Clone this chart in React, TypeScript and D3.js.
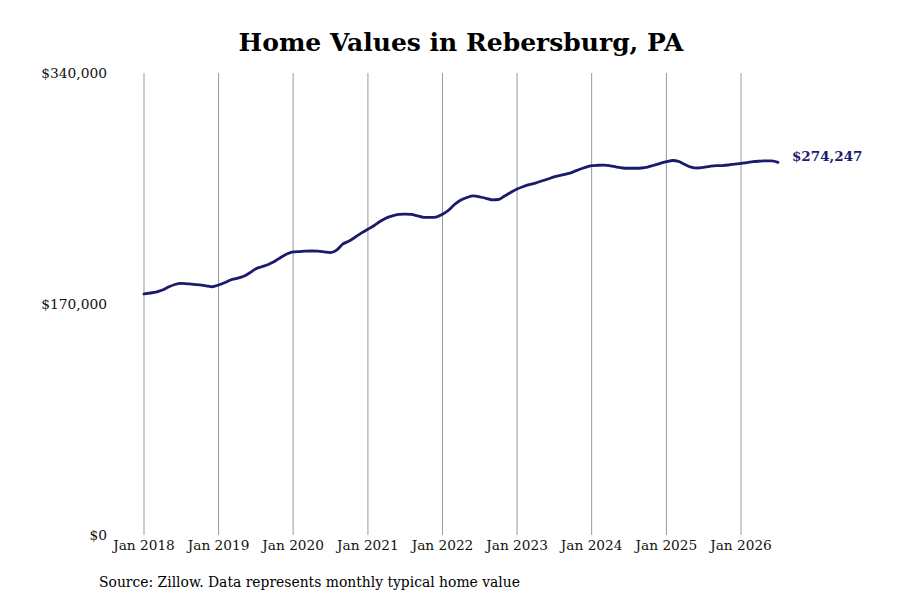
import { useRef, useEffect } from "react";
import * as d3 from "d3";

// monthly typical home value, Jan 2018 .. Jul 2026
const START_YEAR = 2018;
const START_MONTH = 0;
const homeValues = [
  177400, 178100, 178800, 180300, 182500, 184350, 185200, 184870, 184500, 184000, 183400, 182700,
  184000, 185800, 187700, 188900, 190200, 192800, 195800, 197400, 199100, 201300, 204200, 206800,
  208300, 208600, 208900, 209000, 208900, 208400, 207800, 209700, 214200, 216400, 219300, 222300,
  225000, 227800, 230700, 233300, 234900, 235900, 236100, 235900, 234800, 233800, 233700, 234000,
  236000, 239200, 243200, 246500, 248400, 249500, 248900, 247800, 246700, 246900, 249500, 252100,
  254600, 256500, 257900, 259000, 260500, 262000, 263500, 264600, 265700, 267100, 269000, 270600,
  271800, 272100, 272200, 271700, 270800, 270100, 269900, 269900, 270100, 270800, 272100, 273500,
  274700, 275600, 274900, 272700, 270800, 270100, 270600, 271300, 271800, 271900, 272300, 272900,
  273500, 274100, 274700, 275100, 275400, 275400, 274247,
];
const yTicks = [0, 170000, 340000];
const xTickYears = [2018, 2019, 2020, 2021, 2022, 2023, 2024, 2025, 2026];

const TITLE = "Home Values in Rebersburg, PA";
const SOURCE = "Source: Zillow. Data represents monthly typical home value";
const LINE_COLOR = "#1b1a6b";
const FONT = "'DejaVu Serif', serif";

const WIDTH = 900;
const HEIGHT = 600;

export default function App() {
  const svgRef = useRef<SVGSVGElement>(null);

  useEffect(() => {
    if (!svgRef.current) return;
    const svg = d3.select(svgRef.current);
    svg.selectAll("*").remove();

    const data = homeValues.map((v, i) => ({
      date: new Date(START_YEAR, START_MONTH + i, 1),
      value: v,
    }));

    const x = d3
      .scaleTime()
      .domain([new Date(2018, 0, 1), new Date(2026, 0, 1)])
      .range([144, 741]);
    const y = d3.scaleLinear().domain([0, 340000]).range([535, 73]);

    svg.append("rect").attr("width", WIDTH).attr("height", HEIGHT).attr("fill", "#fff");

    // Title
    svg
      .append("text")
      .attr("x", 461)
      .attr("y", 51)
      .attr("text-anchor", "middle")
      .attr("font-family", FONT)
      .attr("font-weight", "bold")
      .attr("font-size", 25)
      .attr("fill", "#000")
      .text(TITLE);

    // Vertical gridlines
    svg
      .append("g")
      .selectAll("line")
      .data(xTickYears)
      .join("line")
      .attr("x1", (d) => x(new Date(d, 0, 1)))
      .attr("x2", (d) => x(new Date(d, 0, 1)))
      .attr("y1", y(340000))
      .attr("y2", y(0))
      .attr("stroke", "#999")
      .attr("stroke-width", 1);

    // X labels
    svg
      .append("g")
      .selectAll("text")
      .data(xTickYears)
      .join("text")
      .attr("x", (d) => x(new Date(d, 0, 1)))
      .attr("y", 550)
      .attr("text-anchor", "middle")
      .attr("font-family", FONT)
      .attr("font-size", 13.7)
      .attr("fill", "#111")
      .text((d) => `Jan ${d}`);

    // Y labels
    svg
      .append("g")
      .selectAll("text")
      .data(yTicks)
      .join("text")
      .attr("x", 107)
      .attr("y", (d) => y(d) + 4.5)
      .attr("text-anchor", "end")
      .attr("font-family", FONT)
      .attr("font-size", 13.8)
      .attr("fill", "#111")
      .text((d) => d3.format("$,")(d));

    // Line
    const line = d3
      .line<{ date: Date; value: number }>()
      .x((d) => x(d.date))
      .y((d) => y(d.value))
      .curve(d3.curveMonotoneX);

    svg
      .append("path")
      .datum(data)
      .attr("d", line)
      .attr("fill", "none")
      .attr("stroke", LINE_COLOR)
      .attr("stroke-width", 2.8)
      .attr("stroke-linejoin", "round")
      .attr("stroke-linecap", "round");

    // End label
    const last = data[data.length - 1];
    svg
      .append("text")
      .attr("x", x(last.date) + 14)
      .attr("y", y(last.value) - 1)
      .attr("font-family", FONT)
      .attr("font-weight", "bold")
      .attr("font-size", 13.5)
      .attr("fill", LINE_COLOR)
      .text(d3.format("$,")(last.value));

    // Source
    svg
      .append("text")
      .attr("x", 99)
      .attr("y", 587)
      .attr("font-family", FONT)
      .attr("font-size", 13.9)
      .attr("fill", "#000")
      .text(SOURCE);
  }, []);

  return (
    <svg
      ref={svgRef}
      width={WIDTH}
      height={HEIGHT}
      style={{ position: "absolute", left: 0, top: 0 }}
    />
  );
}
